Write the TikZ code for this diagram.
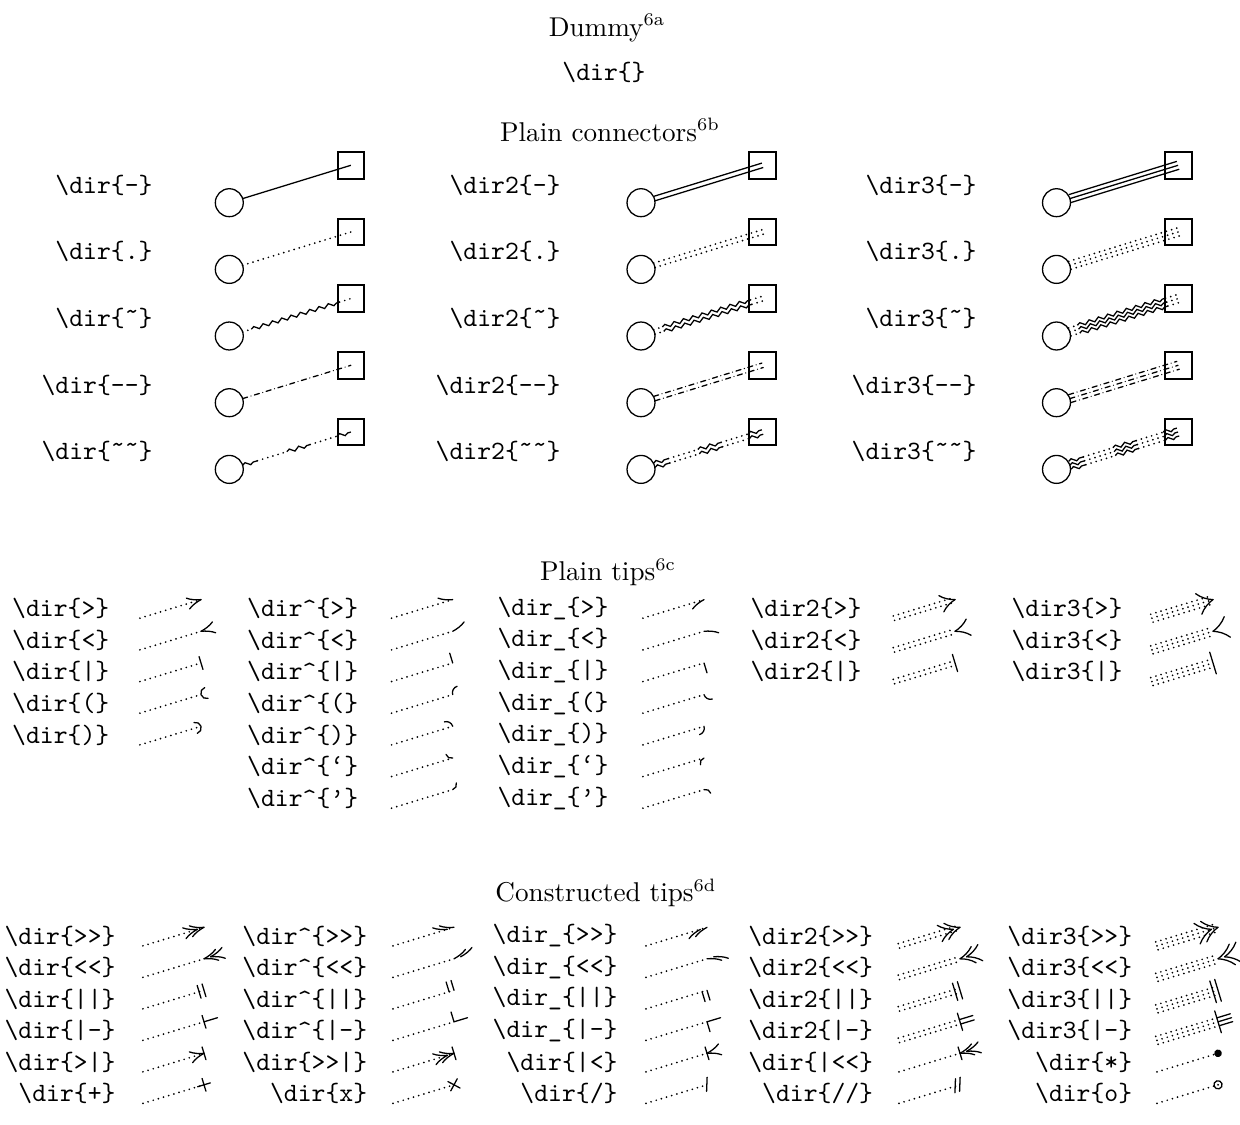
\documentclass[tikz,border=0pt]{standalone}
\usetikzlibrary{decorations.pathmorphing}
\newcommand\mydir[2]{\textbackslash dir#1\{#2\}}
\newcommand\tld{\symbol{"02DC}}
\tikzset{
  lbl/.style={font=\fontsize{10.3pt}{12pt}\selectfont\ttfamily, inner sep=0pt},
  hd/.style={font=\fontsize{10.6pt}{12.5pt}\selectfont\rmfamily, inner sep=0pt},
  circ/.style={circle, draw, line width=0.5pt, minimum size=10.9pt, inner sep=0pt},
  sq/.style={draw, line width=0.75pt, minimum size=10.4pt, inner sep=0pt},
  ln/.style={line width=0.5pt},
  dotln/.style={line width=0.75pt, dash pattern=on 0pt off 2.1pt, line cap=round},
  dashln/.style={line width=0.5pt, dash pattern=on 2pt off 1.4pt on 0pt off 1.4pt, line cap=round},
  snk/.style={line width=0.5pt, decorate, decoration={snake, amplitude=0.7pt, segment length=3.8pt}},
  tipst/.style={line width=0.5pt, line cap=round},
}
% connector patterns (local frame, \off = perpendicular offset)
\newcommand\Psolid{\draw[ln] (5.45pt,\off) -- (49.6pt,\off);}
\newcommand\Pdot{\draw[dotln] (5.45pt,\off) -- (49.6pt,\off);}
\newcommand\Pdash{\draw[dashln] (5.45pt,\off) -- (49.6pt,\off);}
\newcommand\Psq{\draw[dotln] (5.45pt,\off) -- (9pt,\off);
  \draw[snk] (9pt,\off) -- (45pt,\off);
  \draw[dotln] (45pt,\off) -- (49.6pt,\off);}
\newcommand\Psqq{\draw[snk] (5.45pt,\off) -- (11.5pt,\off);
  \draw[dotln] (11.5pt,\off) -- (23.5pt,\off);
  \draw[snk] (23.5pt,\off) -- (33pt,\off);
  \draw[dotln] (33pt,\off) -- (44pt,\off);
  \draw[snk] (44pt,\off) -- (49.6pt,\off);}
% #1 id, #2 circle x, #3 row y, #4 label right x, #5 label, #6 offsets, #7 pattern
\newcommand\cnx[7]{%
  \node[lbl,anchor=east] (#1l) at (#4,#3) {#5};
  \node[circ] (#1c) at (#2,#3+17.7) {};
  \node[sq] (#1b) at (#2+121.7,#3-19.7) {};
  \begin{scope}[shift={(#1c.center)},rotate=17.1]
    \coordinate (#1s) at (5.45pt,0);
    \coordinate (#1e) at (49.6pt,0);
    \foreach \off in {#6} {#7}
  \end{scope}}
% tip pieces (local frame: origin = line end, x forward)
\newcommand\qbU[1]{\draw[tipst,#1] (0,0) .. controls (-1.8pt,0.35pt) and (-3.9pt,1.1pt) .. (-5.3pt,2.2pt);}
\newcommand\qbD[1]{\draw[tipst,#1] (0,0) .. controls (-1.8pt,-0.35pt) and (-3.9pt,-1.1pt) .. (-5.3pt,-2.2pt);}
\newcommand\qG[1]{\qbU{#1}\qbD{#1}}
\newcommand\qB[1]{\draw[tipst,#1] (0,-2.6pt) -- (0,2.6pt);}
\newcommand\qBU[1]{\draw[tipst,#1] (0,0) -- (0,4pt);}
\newcommand\qBD[1]{\draw[tipst,#1] (0,0) -- (0,-4pt);}
\newcommand\qSl[1]{\draw[tipst,#1] (-0.9pt,-2.4pt) -- (0.9pt,2.8pt);}
% #1 id, #2 label x, #3 anchor, #4 row y, #5 label, #6 line start x, #7 offsets, #8 tip
\newcommand\tipln[8]{%
  \node[lbl,anchor=#3] (#1l) at (#2,#4) {#5};
  \coordinate (#1s) at (#6,#4+10);
  \coordinate (#1e) at (#6+61,#4-8.7);
  \begin{scope}[shift={(#1e)},rotate=16.9]
    \foreach \off in {#7} {\draw[dotln] (-24.9pt,\off) -- (0pt,\off);}
    #8
  \end{scope}}
\begin{document}
\begin{tikzpicture}[x=0.39pt,y=-0.39pt]
\useasboundingbox (0,0) rectangle (1240,1124);
% headings
\node[hd] (h1) at (607,28) {Dummy$^{\mathrm{6a}}$};
\node[lbl] (h1d) at (604,72) {\mydir{}{}};
\node[hd] (h2) at (610,130) {Plain connectors$^{\mathrm{6b}}$};
\node[hd] (h3) at (608,572) {Plain tips$^{\mathrm{6c}}$};
\node[hd] (h4) at (606,893) {Constructed tips$^{\mathrm{6d}}$};
% plain connectors
\cnx{a1}{229.3}{185}{153}{\mydir{}{-}}{0pt}{\Psolid}
\cnx{a2}{229.3}{251.7}{153}{\mydir{}{.}}{0pt}{\Pdot}
\cnx{a3}{229.3}{318.3}{153}{\mydir{}{\tld}}{0pt}{\Psq}
\cnx{a4}{229.3}{385}{153}{\mydir{}{-\kern0pt-}}{0pt}{\Pdash}
\cnx{a5}{229.3}{451.7}{153}{\mydir{}{\tld\tld}}{0pt}{\Psqq}
\cnx{b1}{641}{185}{561}{\mydir{2}{-}}{-0.9pt,0.9pt}{\Psolid}
\cnx{b2}{641}{251.7}{561}{\mydir{2}{.}}{-0.9pt,0.9pt}{\Pdot}
\cnx{b3}{641}{318.3}{561}{\mydir{2}{\tld}}{-0.9pt,0.9pt}{\Psq}
\cnx{b4}{641}{385}{561}{\mydir{2}{-\kern0pt-}}{-0.9pt,0.9pt}{\Pdash}
\cnx{b5}{641}{451.7}{561}{\mydir{2}{\tld\tld}}{-0.9pt,0.9pt}{\Psqq}
\cnx{c1}{1056.5}{185}{977}{\mydir{3}{-}}{-1.6pt,0pt,1.6pt}{\Psolid}
\cnx{c2}{1056.5}{251.7}{977}{\mydir{3}{.}}{-1.6pt,0pt,1.6pt}{\Pdot}
\cnx{c3}{1056.5}{318.3}{977}{\mydir{3}{\tld}}{-1.6pt,0pt,1.6pt}{\Psq}
\cnx{c4}{1056.5}{385}{977}{\mydir{3}{-\kern0pt-}}{-1.6pt,0pt,1.6pt}{\Pdash}
\cnx{c5}{1056.5}{451.7}{977}{\mydir{3}{\tld\tld}}{-1.6pt,0pt,1.6pt}{\Psqq}
% plain tips, column A
\tipln{pa1}{11.7}{west}{608.3}{\mydir{}{>}}{140}{0pt}{\qG{}}
\tipln{pa2}{11.7}{west}{640}{\mydir{}{<}}{140}{0pt}{\qG{xscale=-1}}
\tipln{pa3}{11.7}{west}{671.7}{\mydir{}{|}}{140}{0pt}{\qB{}}
\tipln{pa4}{11.7}{west}{703.3}{\mydir{}{(}}{140}{0pt}{\draw[tipst] (2.2pt,2.2pt) arc[start angle=90,end angle=270,radius=2.2pt];}
\tipln{pa5}{11.7}{west}{735}{\mydir{}{)}}{140}{0pt}{\draw[tipst] (-2.2pt,2.2pt) arc[start angle=90,end angle=-90,radius=2.2pt];}
% column B
\tipln{pb1}{246.7}{west}{608.3}{\mydir{\textasciicircum}{>}}{391.7}{0pt}{\qbU{}}
\tipln{pb2}{246.7}{west}{640}{\mydir{\textasciicircum}{<}}{391.7}{0pt}{\qbU{xscale=-1}}
\tipln{pb3}{246.7}{west}{671.7}{\mydir{\textasciicircum}{|}}{391.7}{0pt}{\qBU{}}
\tipln{pb4}{246.7}{west}{703.3}{\mydir{\textasciicircum}{(}}{391.7}{0pt}{\draw[tipst] (2.6pt,2.6pt) arc[start angle=90,end angle=180,radius=2.6pt];}
\tipln{pb5}{246.7}{west}{735}{\mydir{\textasciicircum}{)}}{391.7}{0pt}{\draw[tipst] (-2.6pt,2.6pt) arc[start angle=90,end angle=0,radius=2.6pt];}
\tipln{pb6}{246.7}{west}{766.7}{\mydir{\textasciicircum}{‘}}{391.7}{0pt}{\draw[tipst] (0,0) arc[start angle=270,end angle=180,radius=2.1pt];}
\tipln{pb7}{246.7}{west}{798.3}{\mydir{\textasciicircum}{’}}{391.7}{0pt}{\draw[tipst] (0,0) arc[start angle=270,end angle=360,radius=2.1pt];}
% column C
\tipln{pc1}{497}{west}{608.3}{\mydir{\_}{>}}{643}{0pt}{\qbD{}}
\tipln{pc2}{497}{west}{640}{\mydir{\_}{<}}{643}{0pt}{\qbD{xscale=-1}}
\tipln{pc3}{497}{west}{671.7}{\mydir{\_}{|}}{643}{0pt}{\qBD{}}
\tipln{pc4}{497}{west}{703.3}{\mydir{\_}{(}}{643}{0pt}{\draw[tipst] (0,0) arc[start angle=180,end angle=270,radius=2.6pt];}
\tipln{pc5}{497}{west}{735}{\mydir{\_}{)}}{643}{0pt}{\draw[tipst] (0,0) arc[start angle=0,end angle=-90,radius=2.6pt];}
\tipln{pc6}{497}{west}{766.7}{\mydir{\_}{‘}}{643}{0pt}{\draw[tipst] (0,0) arc[start angle=90,end angle=180,radius=2.1pt];}
\tipln{pc7}{497}{west}{798.3}{\mydir{\_}{’}}{643}{0pt}{\draw[tipst] (0,0) arc[start angle=90,end angle=0,radius=2.1pt];}
% column D
\tipln{pd1}{750}{west}{608.3}{\mydir{2}{>}}{894}{-0.9pt,0.9pt}{\qG{xscale=1.05,yscale=1.5}}
\tipln{pd2}{750}{west}{640}{\mydir{2}{<}}{894}{-0.9pt,0.9pt}{\qG{xscale=-1.05,yscale=1.5}}
\tipln{pd3}{750}{west}{671.7}{\mydir{2}{|}}{894}{-0.9pt,0.9pt}{\qB{yscale=1.35}}
% column E
\tipln{pe1}{1011}{west}{608.3}{\mydir{3}{>}}{1152}{-1.6pt,0pt,1.6pt}{\qG{xscale=1.1,yscale=1.9}}
\tipln{pe2}{1011}{west}{640}{\mydir{3}{<}}{1152}{-1.6pt,0pt,1.6pt}{\qG{xscale=-1.1,yscale=1.9}}
\tipln{pe3}{1011}{west}{671.7}{\mydir{3}{|}}{1152}{-1.6pt,0pt,1.6pt}{\qB{yscale=1.7}}
% constructed tips, column A
\tipln{ka1}{116}{east}{936}{\mydir{}{>\kern0pt>}}{143}{0pt}{\qG{}\qG{xshift=-2.7pt}}
\tipln{ka2}{116}{east}{967.5}{\mydir{}{<\kern0pt<}}{143}{0pt}{\qG{xscale=-1}\qG{xshift=2.7pt,xscale=-1}}
\tipln{ka3}{116}{east}{999}{\mydir{}{|\kern0pt|}}{143}{0pt}{\qB{}\qB{xshift=-2pt}}
\tipln{ka4}{116}{east}{1030.5}{\mydir{}{|\kern0pt-}}{143}{0pt}{\qB{}\draw[tipst] (0,0) -- (5.5pt,0);}
\tipln{ka5}{116}{east}{1062}{\mydir{}{>\kern0pt|}}{143}{0pt}{\qG{}\qB{}}
\tipln{ka6}{116}{east}{1093.5}{\mydir{}{+}}{143}{0pt}{\draw[tipst] (-2.6pt,0) -- (2.6pt,0) (0,-2.6pt) -- (0,2.6pt);}
% column B
\tipln{kb1}{367.7}{east}{936}{\mydir{\textasciicircum}{>\kern0pt>}}{393}{0pt}{\qbU{}\qbU{xshift=-2.7pt}}
\tipln{kb2}{367.7}{east}{967.5}{\mydir{\textasciicircum}{<\kern0pt<}}{393}{0pt}{\qbU{xscale=-1}\qbU{xshift=2.7pt,xscale=-1}}
\tipln{kb3}{367.7}{east}{999}{\mydir{\textasciicircum}{|\kern0pt|}}{393}{0pt}{\qBU{}\qBU{xshift=-2pt}}
\tipln{kb4}{367.7}{east}{1030.5}{\mydir{\textasciicircum}{|\kern0pt-}}{393}{0pt}{\draw[tipst] (0,4pt) -- (0,0) -- (5.5pt,0);}
\tipln{kb5}{367.7}{east}{1062}{\mydir{}{>\kern0pt>\kern0pt|}}{393}{0pt}{\qG{}\qG{xshift=-2.7pt}\qB{}}
\tipln{kb6}{367.7}{east}{1093.5}{\mydir{}{x}}{393}{0pt}{\draw[tipst] (-1.9pt,-1.9pt) -- (1.9pt,1.9pt) (-1.9pt,1.9pt) -- (1.9pt,-1.9pt);}
% column C
\tipln{kc1}{618}{east}{936}{\mydir{\_}{>\kern0pt>}}{646}{0pt}{\qbD{}\qbD{xshift=-2.7pt}}
\tipln{kc2}{618}{east}{967.5}{\mydir{\_}{<\kern0pt<}}{646}{0pt}{\qbD{xscale=-1}\qbD{xshift=2.7pt,xscale=-1}}
\tipln{kc3}{618}{east}{999}{\mydir{\_}{|\kern0pt|}}{646}{0pt}{\qBD{}\qBD{xshift=-2pt}}
\tipln{kc4}{618}{east}{1030.5}{\mydir{\_}{|\kern0pt-}}{646}{0pt}{\draw[tipst] (0,-4pt) -- (0,0) -- (5.5pt,0);}
\tipln{kc5}{618}{east}{1062}{\mydir{}{|\kern0pt<}}{646}{0pt}{\qB{}\qG{xscale=-1}}
\tipln{kc6}{618}{east}{1093.5}{\mydir{}{/}}{646}{0pt}{\qSl{}}
% column D
\tipln{kd1}{873.6}{east}{936}{\mydir{2}{>\kern0pt>}}{899}{-0.9pt,0.9pt}{\qG{xscale=1.05,yscale=1.5}\qG{xshift=-2.7pt,xscale=1.05,yscale=1.5}}
\tipln{kd2}{873.6}{east}{967.5}{\mydir{2}{<\kern0pt<}}{899}{-0.9pt,0.9pt}{\qG{xscale=-1.05,yscale=1.5}\qG{xshift=2.7pt,xscale=-1.05,yscale=1.5}}
\tipln{kd3}{873.6}{east}{999}{\mydir{2}{|\kern0pt|}}{899}{-0.9pt,0.9pt}{\qB{yscale=1.35}\qB{xshift=-2pt,yscale=1.35}}
\tipln{kd4}{873.6}{east}{1030.5}{\mydir{2}{|\kern0pt-}}{899}{-0.9pt,0.9pt}{\qB{yscale=1.35}\draw[tipst] (0,-0.9pt) -- (5.5pt,-0.9pt) (0,0.9pt) -- (5.5pt,0.9pt);}
\tipln{kd5}{873.6}{east}{1062}{\mydir{}{|\kern0pt<\kern0pt<}}{899}{0pt}{\qB{}\qG{xscale=-1}\qG{xshift=2.7pt,xscale=-1}}
\tipln{kd6}{873.6}{east}{1093.5}{\mydir{}{/\kern0pt/}}{899}{0pt}{\qSl{}\qSl{xshift=-1.9pt}}
% column E
\tipln{ke1}{1132.7}{east}{936}{\mydir{3}{>\kern0pt>}}{1157}{-1.6pt,0pt,1.6pt}{\qG{xscale=1.1,yscale=1.9}\qG{xshift=-2.7pt,xscale=1.1,yscale=1.9}}
\tipln{ke2}{1132.7}{east}{967.5}{\mydir{3}{<\kern0pt<}}{1157}{-1.6pt,0pt,1.6pt}{\qG{xscale=-1.1,yscale=1.9}\qG{xshift=2.7pt,xscale=-1.1,yscale=1.9}}
\tipln{ke3}{1132.7}{east}{999}{\mydir{3}{|\kern0pt|}}{1157}{-1.6pt,0pt,1.6pt}{\qB{yscale=1.7}\qB{xshift=-2pt,yscale=1.7}}
\tipln{ke4}{1132.7}{east}{1030.5}{\mydir{3}{|\kern0pt-}}{1157}{-1.6pt,0pt,1.6pt}{\qB{yscale=1.7}\draw[tipst] (0,-1.6pt) -- (5.5pt,-1.6pt) (0,0) -- (5.5pt,0) (0,1.6pt) -- (5.5pt,1.6pt);}
\tipln{ke5}{1132.7}{east}{1062}{\mydir{}{*}}{1157}{0pt}{\fill (0,0) circle[radius=1.5pt];}
\tipln{ke6}{1132.7}{east}{1093.5}{\mydir{}{o}}{1157}{0pt}{\draw[tipst] (0,0) circle[radius=1.6pt]; \fill (0,0) circle[radius=0.4pt];}
\end{tikzpicture}
\end{document}
